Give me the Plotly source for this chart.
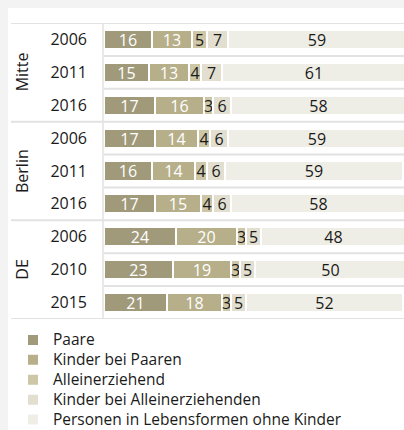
import plotly.graph_objects as go

# ---- data ----
groups = ["Mitte", "Berlin", "DE"]
years = ["2006", "2011", "2016", "2006", "2011", "2016", "2006", "2010", "2015"]
series_names = ["Paare", "Kinder bei Paaren", "Alleinerziehend",
                "Kinder bei Alleinerziehenden", "Personen in Lebensformen ohne Kinder"]
paare = [16, 15, 17, 17, 16, 17, 24, 23, 21]
kinder_paare = [13, 13, 16, 14, 14, 15, 20, 19, 18]
alleinerziehend = [5, 4, 3, 4, 4, 4, 3, 3, 3]
kinder_allein = [7, 7, 6, 6, 6, 6, 5, 5, 5]
ohne_kinder = [59, 61, 58, 59, 59, 58, 48, 50, 52]

colors = ["#a09a7a", "#b6af8a", "#cdc7a7", "#e2dfd0", "#efeee6"]
text_colors = ["#ffffff", "#ffffff", "#1a1a1a", "#1a1a1a", "#1a1a1a"]

W, H = 404, 430
L, R, T, B = 104, 0, 23, 111
PW, PH = W - L - R, H - T - B
FONT = "Open Sans"


def px_x(px):
    return (px - L) / PW


def px_y(py):
    return 1 - (py - T) / PH


rows = list(range(len(years)))
fig = go.Figure()
for name, vals, c, tc in zip(series_names,
                             [paare, kinder_paare, alleinerziehend, kinder_allein, ohne_kinder],
                             colors, text_colors):
    fig.add_trace(go.Bar(
        y=rows, x=vals, orientation="h",
        name='<span style="font-size:15.5px">' + name + '</span>',
        marker=dict(color=c, line=dict(color="#ffffff", width=2)),
        width=0.58,
        text=[str(v) for v in vals], textposition="inside",
        insidetextanchor="middle", textangle=0,
        textfont=dict(color=tc, size=16, family=FONT),
        hoverinfo="skip",
    ))

line_col = "#e2e2e2"
shapes = []
# white panel
shapes.append(dict(type="rect", xref="paper", yref="paper",
                   x0=px_x(8), x1=px_x(W + 5), y0=px_y(8), y1=px_y(H + 5),
                   fillcolor="#ffffff", line=dict(width=0), layer="below"))
# full-width lines (top, group separators, bottom)
for yv in [-0.5, 2.5, 5.5, 8.5]:
    shapes.append(dict(type="line", xref="paper", yref="y", x0=px_x(11), x1=1,
                       y0=yv, y1=yv, line=dict(color=line_col, width=2), layer="below"))
# row separators inside groups
for yv in [0.5, 1.5, 3.5, 4.5, 6.5, 7.5]:
    shapes.append(dict(type="line", xref="paper", yref="y", x0=0, x1=1,
                       y0=yv, y1=yv, line=dict(color=line_col, width=2), layer="below"))
# vertical line
shapes.append(dict(type="line", xref="paper", yref="y", x0=px_x(103), x1=px_x(103),
                   y0=-0.5, y1=8.5, line=dict(color=line_col, width=1.5), layer="below"))

annotations = []
for g, center in zip(groups, [1, 4, 7]):
    annotations.append(dict(text=g, xref="paper", yref="y", x=px_x(22), y=center,
                            textangle=-90, showarrow=False,
                            font=dict(size=16, color="#1a1a1a", family=FONT),
                            xanchor="center", yanchor="middle"))

fig.update_layout(
    width=W, height=H,
    margin=dict(l=L, r=R, t=T, b=B, pad=0, autoexpand=False),
    paper_bgcolor="#f2f3f2", plot_bgcolor="#ffffff",
    barmode="stack", bargap=0,
    font=dict(family=FONT, color="#1a1a1a"),
    uniformtext=dict(minsize=16, mode="show"),
    xaxis=dict(range=[0, PW / 3.02], showgrid=False, zeroline=False,
               showticklabels=False, ticks="", fixedrange=True),
    yaxis=dict(tickvals=rows, ticktext=years, range=[8.5, -0.5],
               showgrid=False, zeroline=False, ticks="", fixedrange=True,
               ticklabelstandoff=16,
               tickfont=dict(size=16, color="#1a1a1a", family=FONT)),
    legend=dict(x=px_x(13), xanchor="left", y=px_y(325), yanchor="top",
                orientation="v", traceorder="normal", bgcolor="rgba(0,0,0,0)",
                font=dict(size=13, color="#1a1a1a", family=FONT),
                tracegroupgap=0, itemclick=False, itemdoubleclick=False),
    shapes=shapes, annotations=annotations,
    showlegend=True,
)

fig.write_html("out.html",
               config={"displayModeBar": False},
               post_script="document.body.style.margin='0';document.body.style.overflow='hidden';")
